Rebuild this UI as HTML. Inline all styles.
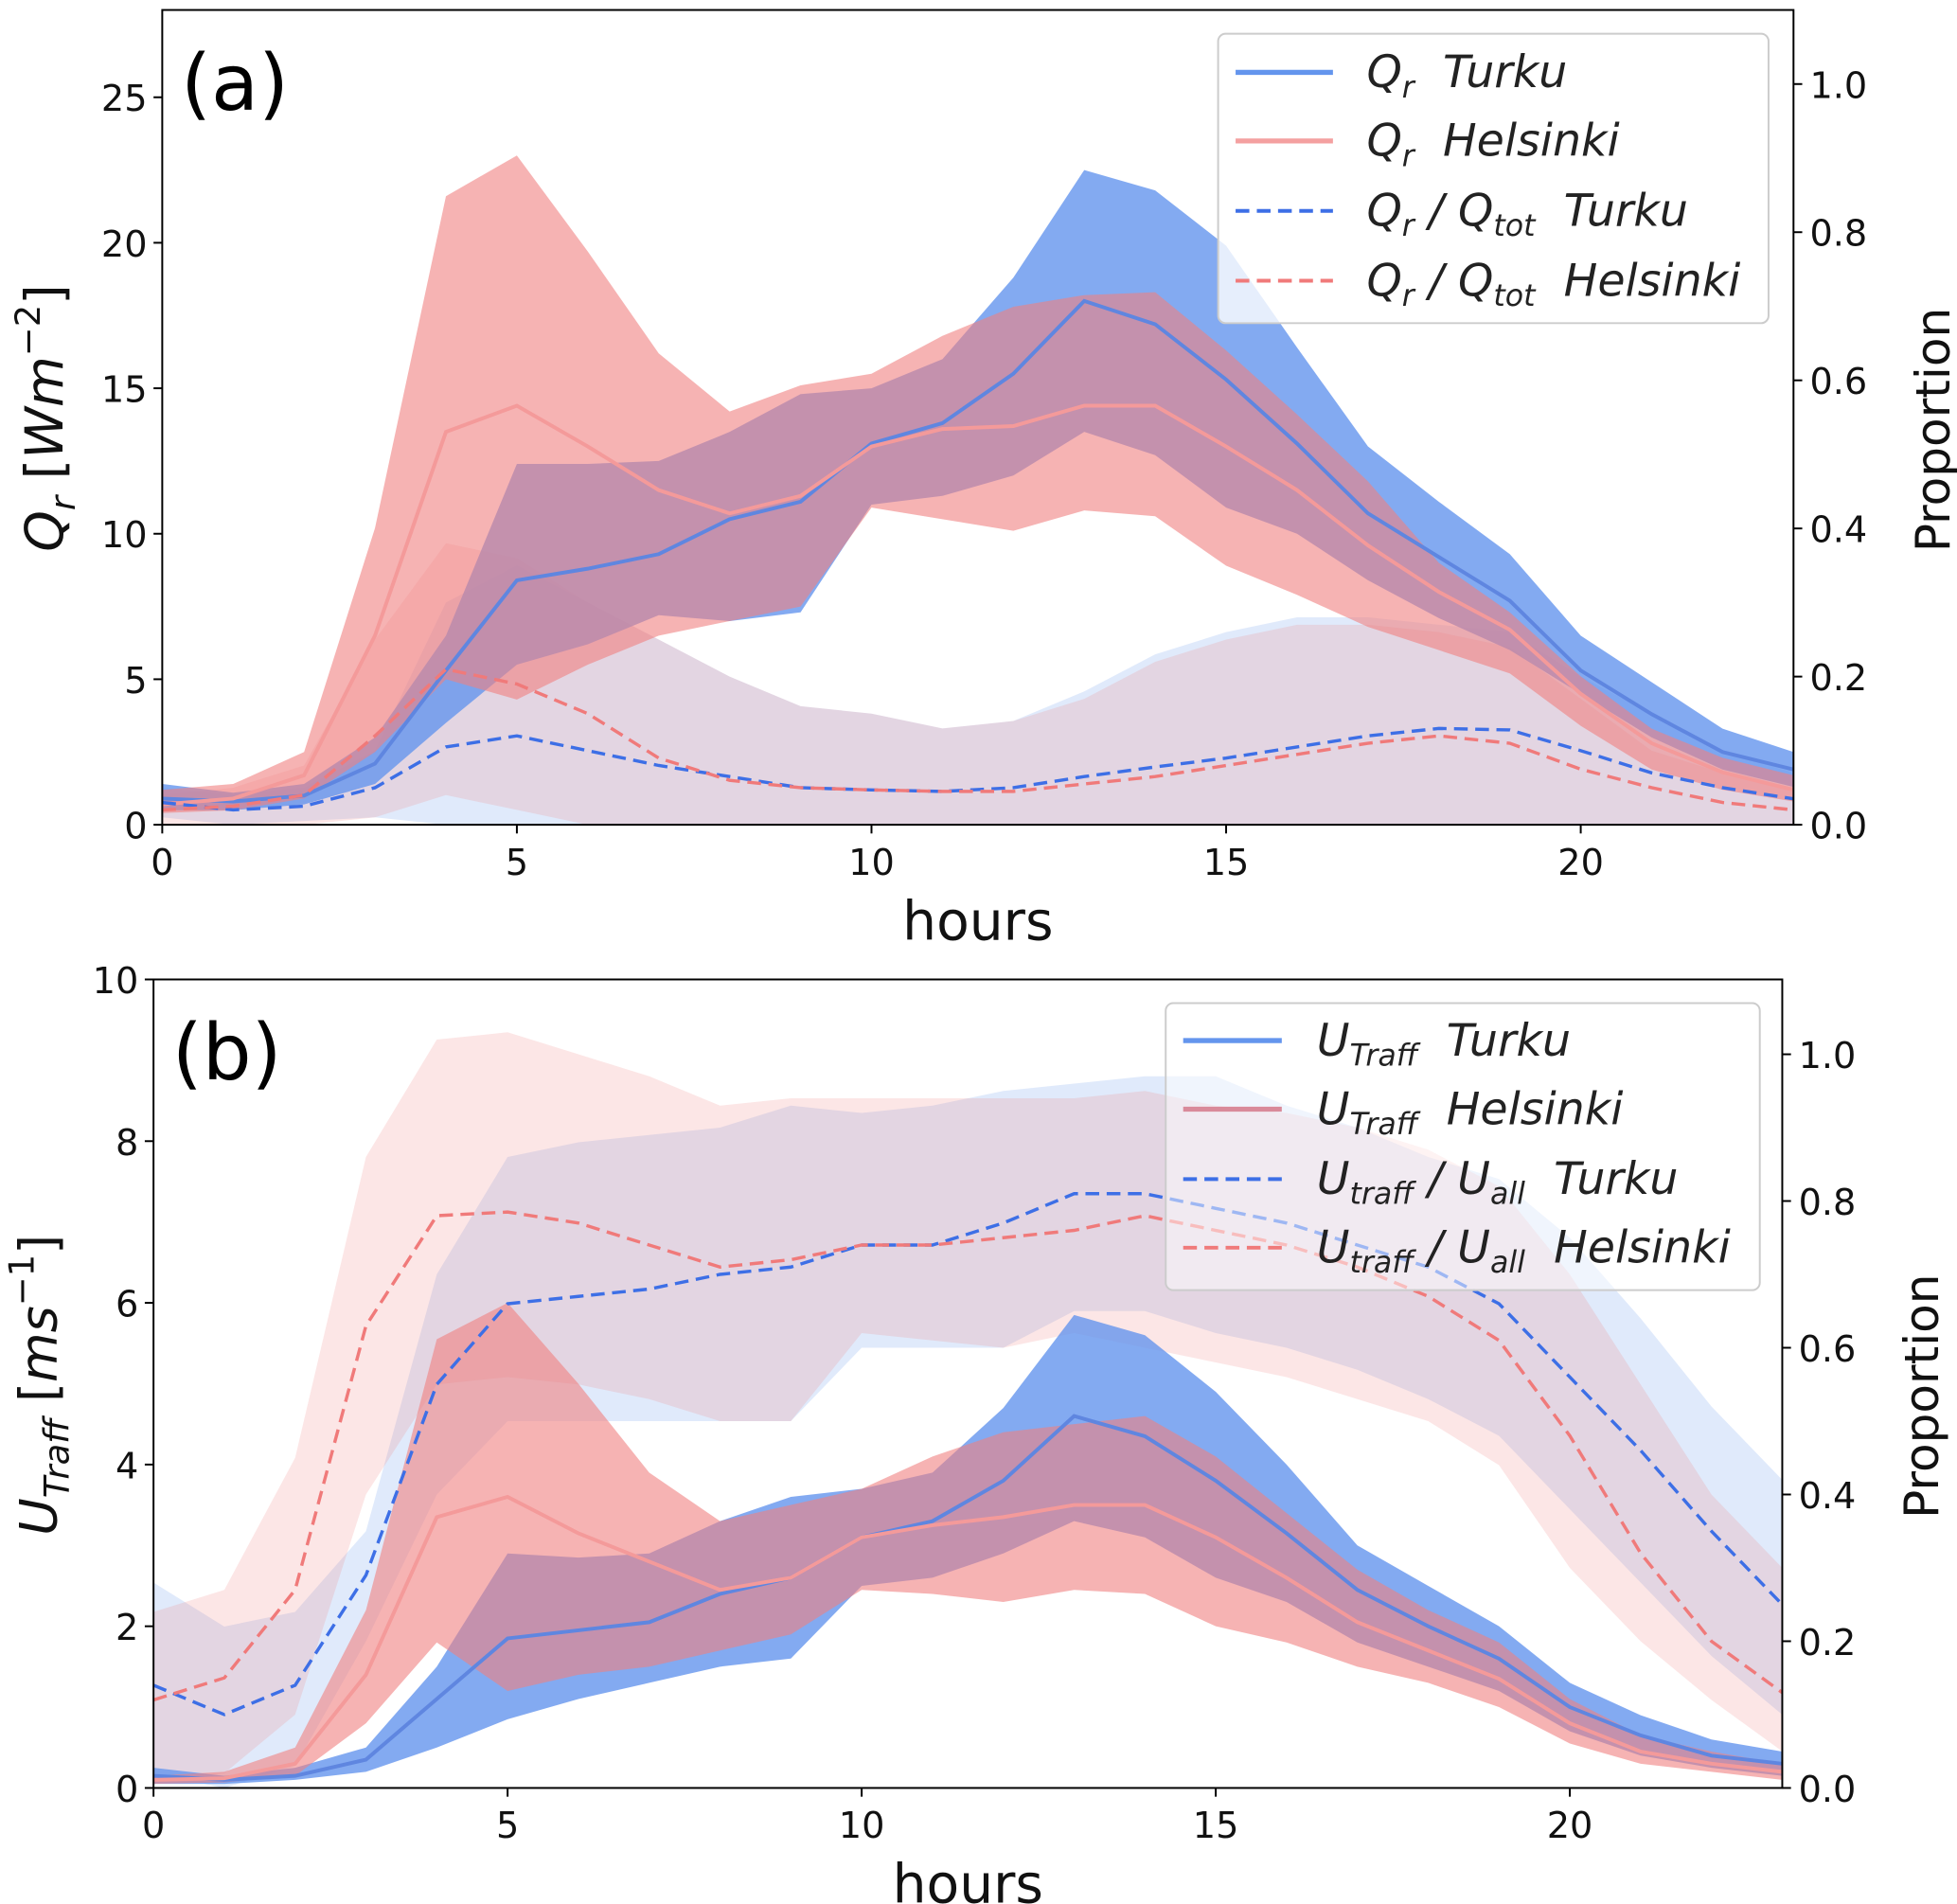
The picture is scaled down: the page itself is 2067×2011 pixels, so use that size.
<!DOCTYPE html>
<html><head><meta charset="utf-8"><style>
html,body{margin:0;padding:0;background:#fff;}
svg{display:block;font-family:"DejaVu Sans","Liberation Sans",sans-serif;}
</style></head><body>
<svg id="chart" width="2067" height="2011" viewBox="0 0 1568 1526" preserveAspectRatio="none" xmlns="http://www.w3.org/2000/svg"></svg>
<script>
const hours = [0,1,2,3,4,5,6,7,8,9,10,11,12,13,14,15,16,17,18,19,20,21,22,23];
// Panel (a)
const aTurkuMean = [0.9,0.8,1.0,2.1,5.3,8.4,8.8,9.3,10.5,11.1,13.1,13.8,15.5,18.0,17.2,15.3,13.1,10.7,9.2,7.7,5.3,3.8,2.5,1.9];
const aTurkuUp = [1.4,1.1,1.4,3.0,6.5,12.4,12.4,12.5,13.5,14.8,15.0,16.0,18.8,22.5,21.8,19.9,16.4,13.0,11.1,9.3,6.5,4.9,3.3,2.5];
const aTurkuLo = [0.5,0.5,0.7,1.4,3.5,5.5,6.2,7.2,7.0,7.3,11.0,11.3,12.0,13.5,12.7,10.9,10.0,8.4,7.1,6.0,4.5,3.0,1.9,1.3];
const aHelMean = [0.7,0.9,1.7,6.5,13.5,14.4,13.0,11.5,10.7,11.3,13.0,13.6,13.7,14.4,14.4,13.0,11.5,9.6,8.0,6.7,4.5,2.8,1.8,1.2];
const aHelUp = [1.2,1.4,2.5,10.2,21.6,23.0,19.7,16.2,14.2,15.1,15.5,16.8,17.8,18.2,18.3,16.3,14.1,11.8,9.0,7.3,5.1,3.3,2.3,1.7];
const aHelLo = [0.4,0.5,0.9,2.5,5.0,4.3,5.5,6.5,7.0,7.5,10.9,10.5,10.1,10.8,10.6,8.9,7.9,6.8,6.0,5.2,3.4,1.9,1.2,0.8];
const aTurkuRatio = [0.03,0.02,0.025,0.05,0.105,0.12,0.1,0.08,0.065,0.05,0.047,0.045,0.05,0.065,0.078,0.09,0.105,0.12,0.13,0.128,0.1,0.07,0.05,0.035];
const aTurkuRatioUp = [0.05,0.04,0.05,0.1,0.3,0.35,0.3,0.25,0.2,0.16,0.15,0.13,0.14,0.18,0.23,0.26,0.28,0.28,0.27,0.26,0.2,0.15,0.1,0.07];
const aTurkuRatioLo = [0.01,0,0.005,0.01,0,0,0,0,0,0,0,0,0,0,0,0,0,0,0,0,0,0,0,0];
const aHelRatio = [0.02,0.025,0.04,0.12,0.21,0.19,0.15,0.09,0.06,0.05,0.047,0.045,0.045,0.055,0.065,0.08,0.095,0.11,0.12,0.11,0.075,0.05,0.03,0.02];
const aHelRatioUp = [0.04,0.05,0.08,0.25,0.38,0.36,0.3,0.25,0.2,0.16,0.15,0.13,0.14,0.17,0.22,0.25,0.27,0.27,0.26,0.24,0.17,0.1,0.07,0.05];
const aHelRatioLo = [0,0,0,0.01,0.04,0.02,0,0,0,0,0,0,0,0,0,0,0,0,0,0,0,0,0,0];
// Panel (b)
const bTurkuMean = [0.15,0.1,0.15,0.35,1.1,1.85,1.95,2.05,2.4,2.6,3.1,3.3,3.8,4.6,4.35,3.8,3.15,2.45,2.0,1.6,1.0,0.65,0.4,0.3];
const bTurkuUp = [0.25,0.15,0.25,0.5,1.5,2.9,2.85,2.9,3.3,3.6,3.7,3.9,4.7,5.85,5.6,4.9,4.0,3.0,2.5,2.0,1.3,0.9,0.6,0.45];
const bTurkuLo = [0.05,0.05,0.1,0.2,0.5,0.85,1.1,1.3,1.5,1.6,2.5,2.6,2.9,3.3,3.1,2.6,2.3,1.8,1.5,1.2,0.7,0.4,0.25,0.15];
const bHelMean = [0.1,0.12,0.3,1.4,3.35,3.6,3.15,2.8,2.45,2.6,3.1,3.25,3.35,3.5,3.5,3.1,2.6,2.05,1.7,1.35,0.8,0.45,0.3,0.2];
const bHelUp = [0.15,0.2,0.5,2.2,5.55,6.0,5.0,3.9,3.3,3.5,3.7,4.1,4.4,4.5,4.6,4.1,3.4,2.7,2.2,1.8,1.1,0.65,0.45,0.3];
const bHelLo = [0.05,0.07,0.15,0.8,1.8,1.2,1.4,1.5,1.7,1.9,2.45,2.4,2.3,2.45,2.4,2.0,1.8,1.5,1.3,1.0,0.55,0.3,0.2,0.1];
const bTurkuRatio = [0.14,0.1,0.14,0.29,0.55,0.66,0.67,0.68,0.7,0.71,0.74,0.74,0.77,0.81,0.81,0.79,0.77,0.74,0.71,0.66,0.56,0.46,0.35,0.25];
const bTurkuRatioUp = [0.28,0.22,0.24,0.35,0.7,0.86,0.88,0.89,0.9,0.93,0.92,0.93,0.95,0.96,0.97,0.97,0.93,0.9,0.86,0.83,0.75,0.64,0.52,0.42];
const bTurkuRatioLo = [0.02,0,0.03,0.2,0.4,0.5,0.5,0.5,0.5,0.5,0.6,0.6,0.6,0.65,0.65,0.62,0.6,0.57,0.53,0.48,0.38,0.28,0.18,0.1];
const bHelRatio = [0.12,0.15,0.27,0.63,0.78,0.785,0.77,0.74,0.71,0.72,0.74,0.74,0.75,0.76,0.78,0.76,0.74,0.71,0.67,0.61,0.48,0.32,0.2,0.13];
const bHelRatioUp = [0.24,0.27,0.45,0.86,1.02,1.03,1.0,0.97,0.93,0.94,0.94,0.94,0.94,0.94,0.95,0.93,0.92,0.9,0.87,0.82,0.7,0.55,0.4,0.3];
const bHelRatioLo = [0.01,0.02,0.1,0.4,0.55,0.56,0.55,0.53,0.5,0.5,0.62,0.61,0.6,0.62,0.6,0.58,0.56,0.53,0.5,0.44,0.3,0.2,0.12,0.05];
const xTicks = [0,5,10,15,20];
const aYTicks = [0,5,10,15,20,25];
const bYTicks = [0,2,4,6,8,10];
const rTicks = [0.0,0.2,0.4,0.6,0.8,1.0];

const NS="http://www.w3.org/2000/svg";
const svg=document.getElementById('chart');
function mk(tag,attrs,parent){const e=document.createElementNS(NS,tag);for(const k in attrs)e.setAttribute(k,attrs[k]);(parent||svg).appendChild(e);return e;}

function panel(cfg){
  const g=mk('g',{});
  
  
  const X=h=>cfg.L+(h-0)/23*(cfg.R-cfg.L);
  const Y=v=>cfg.B-v/cfg.yMax*(cfg.B-cfg.T);
  const YR=v=>cfg.B-v/cfg.rMax*(cfg.B-cfg.T);
  const clip=mk('clipPath',{id:'clip'+cfg.id},g);
  mk('rect',{x:cfg.L,y:cfg.T,width:cfg.R-cfg.L,height:cfg.B-cfg.T},clip);
  const plot=mk('g',{'clip-path':'url(#clip'+cfg.id+')'},g);
  function band(up,lo,sc,color,op,name){
    let d='M'+hours.map((h,i)=>X(h)+','+sc(up[i])).join('L');
    d+='L'+hours.slice().reverse().map(h=>X(h)+','+sc(lo[h])).join('L')+'Z';
    const p=mk('path',{d:d,fill:color,'fill-opacity':op,stroke:'none'},plot);
    
    
  }
  function line(vals,sc,color,dash,name,w){
    const p=mk('path',{d:'M'+hours.map((h,i)=>X(h)+','+sc(vals[i])).join('L'),fill:'none',stroke:color,'stroke-width':w||3,'stroke-dasharray':dash||'none'},plot);
    
    
  }
  const s=cfg.s;
  band(s.tRu,s.tRl,YR,'#6495ED',0.2,'turku-ratio-band');
  band(s.hRu,s.hRl,YR,'#F08080',0.2,'helsinki-ratio-band');
  band(s.tu,s.tl,Y,'#6495ED',0.8,'turku-band');
  band(s.hu,s.hl,Y,'#F08080',0.6,'helsinki-band');
  line(s.tm,Y,'#5f86e0',null,'turku-mean-line',3);
  line(s.hm,Y,'#f49a9a',null,'helsinki-mean-line',3);
  line(s.tR,YR,'#3d6fe6','11,6','turku-ratio-line',2.6);
  line(s.hR,YR,'#f07a7a','11,6','helsinki-ratio-line',2.6);
  mk('rect',{x:cfg.L,y:cfg.T,width:cfg.R-cfg.L,height:cfg.B-cfg.T,fill:'none',stroke:'#000','stroke-width':1.5},g);
  xTicks.forEach(t=>{
    mk('line',{x1:X(t),x2:X(t),y1:cfg.B,y2:cfg.B+7,stroke:'#000','stroke-width':1.5},g);
    const tx=mk('text',{x:X(t),y:cfg.B+40,'font-size':29,'text-anchor':'middle',fill:'#111'},g);tx.textContent=t;
    
    
  });
  cfg.yTicks.forEach(t=>{
    mk('line',{x1:cfg.L-7,x2:cfg.L,y1:Y(t),y2:Y(t),stroke:'#000','stroke-width':1.5},g);
    const tx=mk('text',{x:cfg.L-12,y:Y(t)+11,'font-size':29,'text-anchor':'end',fill:'#111'},g);tx.textContent=t;
    
    
  });
  rTicks.forEach(t=>{
    mk('line',{x1:cfg.R,x2:cfg.R+7,y1:YR(t),y2:YR(t),stroke:'#000','stroke-width':1.5},g);
    const tx=mk('text',{x:cfg.R+13,y:YR(t)+11,'font-size':29,fill:'#111'},g);tx.textContent=t.toFixed(1);
    
    
  });
  const xl=mk('text',{x:(cfg.L+cfg.R)/2,y:cfg.B+92,'font-size':43,'text-anchor':'middle',fill:'#111'},g);xl.textContent='hours';
  
  
  const rl=mk('text',{x:0,y:0,'font-size':38,'text-anchor':'middle',fill:'#111',transform:`translate(${cfg.R+125},${(cfg.T+cfg.B)/2+10}) rotate(-90)`},g);rl.textContent='Proportion';
  
  
  const pl=mk('text',{x:cfg.L+15,y:cfg.T+80,'font-size':62,fill:'#000'},g);pl.textContent=cfg.label;
  
  
  return g;
}

const ga=panel({id:'a',name:'panel-a',L:130,R:1437,T:8,B:661,yMax:28,rMax:1.1,yTicks:aYTicks,label:'(a)',
  s:{tm:aTurkuMean,tu:aTurkuUp,tl:aTurkuLo,hm:aHelMean,hu:aHelUp,hl:aHelLo,tR:aTurkuRatio,tRu:aTurkuRatioUp,tRl:aTurkuRatioLo,hR:aHelRatio,hRu:aHelRatioUp,hRl:aHelRatioLo}});
const gb=panel({id:'b',name:'panel-b',L:123,R:1428,T:785,B:1433,yMax:10,rMax:1.102,yTicks:bYTicks,label:'(b)',
  s:{tm:bTurkuMean,tu:bTurkuUp,tl:bTurkuLo,hm:bHelMean,hu:bHelUp,hl:bHelLo,tR:bTurkuRatio,tRu:bTurkuRatioUp,tRl:bTurkuRatioLo,hR:bHelRatio,hRu:bHelRatioUp,hRl:bHelRatioLo}});
</script>
<svg style="position:absolute;left:0;top:0" width="2067" height="2011" viewBox="0 0 1568 1526" preserveAspectRatio="none" xmlns="http://www.w3.org/2000/svg" font-family="DejaVu Sans, Liberation Sans, sans-serif">
  <g>
    <text transform="translate(50,335) rotate(-90)" font-size="42" text-anchor="middle" fill="#111"><tspan font-style="italic">Q</tspan><tspan font-style="italic" font-size="28" dy="10">r</tspan><tspan dy="-10">  [</tspan><tspan font-style="italic">Wm</tspan><tspan font-size="28" dy="-18">−2</tspan><tspan dy="18">]</tspan></text>
  </g>
  <g>
    <text transform="translate(45,1110) rotate(-90)" font-size="41" text-anchor="middle" fill="#111"><tspan font-style="italic">U</tspan><tspan font-style="italic" font-size="28" dy="10">Traff</tspan><tspan dy="-10"> [</tspan><tspan font-style="italic">ms</tspan><tspan font-size="28" dy="-18">−1</tspan><tspan dy="18">]</tspan></text>
  </g>
  <g>
    <rect x="976" y="27" width="441" height="232" rx="6" fill="#fff" fill-opacity="0.8" stroke="#ccc" stroke-width="1.5"/>
    <g><line x1="990" y1="58" x2="1068" y2="58" stroke="#6495ED" stroke-width="4"/><text x="1095" y="70" font-size="36" font-style="italic" fill="#222">Q<tspan font-size="24" dy="8">r</tspan><tspan dy="-8" xml:space="preserve">  Turku</tspan></text></g>
    <g><line x1="990" y1="113" x2="1068" y2="113" stroke="#F4A0A0" stroke-width="4"/><text x="1095" y="125" font-size="36" font-style="italic" fill="#222">Q<tspan font-size="24" dy="8">r</tspan><tspan dy="-8" xml:space="preserve">  Helsinki</tspan></text></g>
    <g><line x1="990" y1="169" x2="1068" y2="169" stroke="#3d6fe6" stroke-width="3" stroke-dasharray="11,6"/><text x="1095" y="181" font-size="36" font-style="italic" fill="#222">Q<tspan font-size="24" dy="8">r</tspan><tspan dy="-8"> / Q</tspan><tspan font-size="24" dy="8">tot</tspan><tspan dy="-8" xml:space="preserve">  Turku</tspan></text></g>
    <g><line x1="990" y1="225" x2="1068" y2="225" stroke="#f07a7a" stroke-width="3" stroke-dasharray="11,6"/><text x="1095" y="237" font-size="36" font-style="italic" fill="#222">Q<tspan font-size="24" dy="8">r</tspan><tspan dy="-8"> / Q</tspan><tspan font-size="24" dy="8">tot</tspan><tspan dy="-8" xml:space="preserve">  Helsinki</tspan></text></g>
  </g>
  <g>
    <rect x="934" y="804" width="476" height="230" rx="6" fill="#fff" fill-opacity="0.5" stroke="#ccc" stroke-width="1.5"/>
    <g><line x1="948" y1="834" x2="1027" y2="834" stroke="#6495ED" stroke-width="4"/><text x="1055" y="846" font-size="36" font-style="italic" fill="#222">U<tspan font-size="24" dy="8">Traff</tspan><tspan dy="-8" xml:space="preserve">  Turku</tspan></text></g>
    <g><line x1="948" y1="889" x2="1027" y2="889" stroke="#d98a9a" stroke-width="4"/><text x="1055" y="901" font-size="36" font-style="italic" fill="#222">U<tspan font-size="24" dy="8">Traff</tspan><tspan dy="-8" xml:space="preserve">  Helsinki</tspan></text></g>
    <g><line x1="948" y1="945" x2="1027" y2="945" stroke="#3d6fe6" stroke-width="3" stroke-dasharray="11,6"/><text x="1055" y="957" font-size="36" font-style="italic" fill="#222">U<tspan font-size="24" dy="8">traff</tspan><tspan dy="-8"> / U</tspan><tspan font-size="24" dy="8">all</tspan><tspan dy="-8" xml:space="preserve">  Turku</tspan></text></g>
    <g><line x1="948" y1="1000" x2="1027" y2="1000" stroke="#f07a7a" stroke-width="3" stroke-dasharray="11,6"/><text x="1055" y="1012" font-size="36" font-style="italic" fill="#222">U<tspan font-size="24" dy="8">traff</tspan><tspan dy="-8"> / U</tspan><tspan font-size="24" dy="8">all</tspan><tspan dy="-8" xml:space="preserve">  Helsinki</tspan></text></g>
  </g>
</svg>
</body></html>
